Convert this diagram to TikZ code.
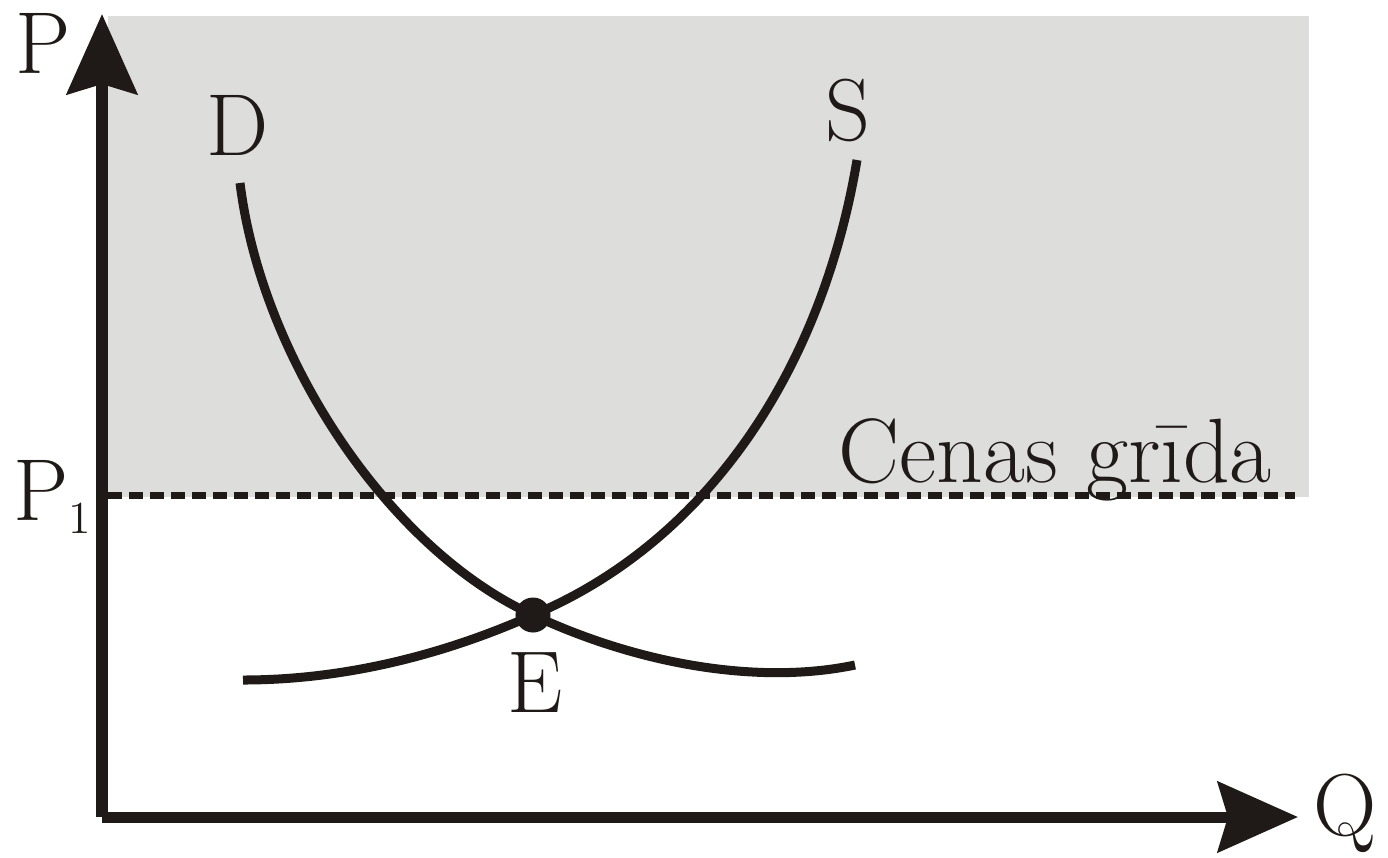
\documentclass[tikz,border=0pt]{standalone}
\usepackage{tikz}
\usetikzlibrary{arrows.meta, positioning}
\definecolor{inkcol}{RGB}{31,26,23}
\definecolor{floorgray}{RGB}{221,221,219}

\begin{document}
\begin{tikzpicture}[x=0.01cm, y=-0.01cm,
    axis/.style={-{Stealth[length=0.8cm, width=0.7cm, inset=0.1cm]}, line width=0.11cm, draw=inkcol, fill=inkcol},
    curve/.style={line width=0.09cm, draw=inkcol},
    floorline/.style={line width=0.07cm, draw=inkcol, dash pattern=on 0.14cm off 0.07cm},
    lbl/.style={inner sep=0pt, text=inkcol, font=\fontsize{25}{30}\selectfont},
    dot/.style={circle, fill=inkcol, inner sep=0pt, minimum size=0.35cm}]
            \useasboundingbox (0,0) rectangle (1388,857);
            \fill[floorgray] (108,16) rectangle (1309,497); %cenu zona
            \coordinate (O) at (102,817); %sakumpunkts
            \coordinate (ytip) at (102,14);
            \coordinate (xtip) at (1298,817);
            \coordinate (fl0) at (108,495);
            \coordinate (fl1) at (1295,495);
            \coordinate (dtop) at (240,183);
            \coordinate (dend) at (855,665);
            \coordinate (sbot) at (243,680);
            \coordinate (stop) at (857,160);
            \draw[floorline] (fl0) -- (fl1); %cenu grida
            \draw[curve] (dtop) .. controls (262,360) and (390,550) .. (533,615)
                .. controls (640,665) and (760,685) .. (dend); %D
            \draw[curve] (sbot) .. controls (350,680) and (450,652) .. (533,615)
                .. controls (700,545) and (820,380) .. (stop); %S
            \draw[axis] (O) -- (ytip); %P ass
            \draw[axis] (O) -- (xtip); %Q ass
            \node[dot] (eq) at (533,615) {}; %lidzsvars
            \node[lbl, anchor=base west] (plbl) at (15,73) {P};
            \node[lbl, anchor=base west] (p1lbl) at (13,520) {P\raisebox{-0.13cm}{\fontsize{13}{15}\selectfont 1}};
            \node[lbl, anchor=base west] (qlbl) at (1313,835) {Q};
            \node[lbl, anchor=base] (dlbl) at (238,155) {D};
            \node[lbl, anchor=base] (slbl) at (848,140) {S};
            \node[lbl, anchor=base] (elbl) at (535,712) {E};
            \node[lbl, anchor=base west, font=\fontsize{26}{30}\selectfont] (floorlbl) at (838,482) {Cenas grīda};
        \end{tikzpicture}
\end{document}
